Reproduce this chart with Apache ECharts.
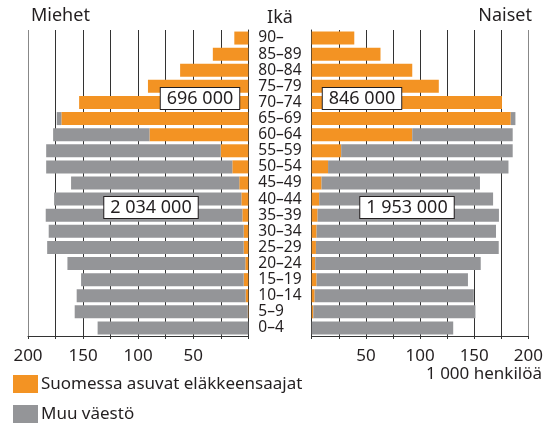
<!DOCTYPE html>
<html>
<head>
<meta charset="utf-8">
<script src="https://cdn.jsdelivr.net/npm/echarts@6/dist/echarts.min.js"></script>
<style>
  html, body { margin: 0; padding: 0; background: #fff; }
  #main { width: 546px; height: 424px; }
</style>
</head>
<body>
<div id="main"></div>
<script>
// ikäryhmät ylhäältä alas
var ages = ['90–', '85–89', '80–84', '75–79', '70–74', '65–69', '60–64', '55–59', '50–54', '45–49',
  '40–44', '35–39', '30–34', '25–29', '20–24', '15–19', '10–14', '5–9', '0–4'];

// 1 000 henkilöä
var menPension = [12.7, 32.2, 61.9, 91.1, 153.6, 169.7, 89.7, 25, 14.5, 8.2, 6.3, 5.4, 4.2, 4.2, 2.7, 4.2, 2.4, 0.5, 0];
var menOther = [0, 0, 0, 0, 0, 4.2, 87.5, 158.5, 169, 152.7, 170, 178.5, 177, 178.4, 161.5, 147.6, 153.4, 157.1, 136.8];
var womenPension = [39.3, 63.5, 92.8, 117.3, 175.6, 183.7, 92.8, 27.2, 15.1, 9.1, 6.9, 5.4, 4.5, 3.9, 3.3, 4.5, 2.7, 1.5, 0];
var womenOther = [0, 0, 0, 0, 0, 4.3, 92.7, 158.3, 166.5, 146.2, 160.5, 167.4, 165.6, 168.7, 152.7, 139.7, 146.9, 149.6, 130.6];

var totalLabels = ['696 000', '2 034 000', '846 000', '1 953 000'];

var FONT = '"Noto Sans", "Open Sans", sans-serif';
var ORANGE = '#f39323';
var GRAY = '#949598';
var TXT = '#231f20';

var chart = echarts.init(document.getElementById('main'));

function xAxisCfg(gridIndex, inverse) {
  return {
    gridIndex: gridIndex,
    type: 'value',
    inverse: inverse,
    min: 0,
    max: 200,
    interval: 25,
    axisLine: { show: true, lineStyle: { color: '#333', width: 1 } },
    axisTick: { show: true, length: 3, lineStyle: { color: '#333' } },
    axisLabel: {
      margin: 12,
      fontSize: 17,
      fontFamily: FONT,
      color: TXT,
      formatter: function (v) { return (v > 0 && v % 50 === 0) ? String(v) : ''; }
    },
    splitLine: {
      show: true,
      lineStyle: { color: ['#333', '#333', '#333', '#333', '#333', '#333', '#333', '#333', '#888'], width: 1 }
    }
  };
}

function boxText(text, cx, cy) {
  return {
    type: 'text',
    x: cx,
    y: cy,
    z: 100,
    style: {
      text: text,
      fontSize: 18,
      fontFamily: FONT,
      fill: TXT,
      align: 'center',
      verticalAlign: 'middle',
      backgroundColor: '#fff',
      borderColor: '#231f20',
      borderWidth: 1,
      padding: [2, 6, 1, 6]
    }
  };
}

chart.setOption({
  animation: false,
  textStyle: { fontFamily: FONT },
  grid: [
    { left: 28, right: 297.7, top: 30, height: 306 },
    { left: 311.7, right: 13.7, top: 30, height: 306 }
  ],
  legend: {
    orient: 'vertical',
    left: 13,
    top: 375,
    padding: 0,
    itemWidth: 25,
    itemHeight: 18,
    itemGap: 12,
    icon: 'rect',
    textStyle: { fontSize: 17, fontFamily: FONT, color: TXT, padding: [0, 0, 0, -2] },
    data: ['Suomessa asuvat eläkkeensaajat', 'Muu väestö']
  },
  xAxis: [xAxisCfg(0, true), xAxisCfg(1, false)],
  yAxis: [
    {
      gridIndex: 0,
      type: 'category',
      inverse: true,
      position: 'right',
      data: ages,
      axisLine: { show: true, lineStyle: { color: '#333' } },
      axisTick: { show: false },
      axisLabel: {
        show: true,
        interval: 0,
        align: 'left',
        margin: 10,
        fontSize: 15.5,
        fontFamily: FONT,
        color: TXT
      }
    },
    {
      gridIndex: 1,
      type: 'category',
      inverse: true,
      data: ages,
      axisLine: { show: true, lineStyle: { color: '#333' } },
      axisTick: { show: false },
      axisLabel: { show: false }
    }
  ],
  series: [
    {
      name: 'Suomessa asuvat eläkkeensaajat', type: 'bar', stack: 'm',
      xAxisIndex: 0, yAxisIndex: 0, barWidth: 13,
      itemStyle: { color: ORANGE }, data: menPension
    },
    {
      name: 'Muu väestö', type: 'bar', stack: 'm',
      xAxisIndex: 0, yAxisIndex: 0, barWidth: 13,
      itemStyle: { color: GRAY }, data: menOther
    },
    {
      name: 'Suomessa asuvat eläkkeensaajat', type: 'bar', stack: 'f',
      xAxisIndex: 1, yAxisIndex: 1, barWidth: 13,
      itemStyle: { color: ORANGE }, data: womenPension
    },
    {
      name: 'Muu väestö', type: 'bar', stack: 'f',
      xAxisIndex: 1, yAxisIndex: 1, barWidth: 13,
      itemStyle: { color: GRAY }, data: womenOther
    }
  ],
  graphic: [
    { type: 'text', left: 31, top: 7, style: { text: 'Miehet', fontSize: 18, fontFamily: FONT, fill: TXT } },
    { type: 'text', x: 280, y: 18, style: { text: 'Ikä', fontSize: 18, fontFamily: FONT, fill: TXT, align: 'center', verticalAlign: 'middle' } },
    { type: 'text', right: 14, top: 7, style: { text: 'Naiset', fontSize: 18, fontFamily: FONT, fill: TXT } },
    { type: 'text', right: 4, top: 366, style: { text: '1 000 henkilöä', fontSize: 17, fontFamily: FONT, fill: TXT } },
    boxText(totalLabels[0], 200, 98.5),
    boxText(totalLabels[1], 151, 207.5),
    boxText(totalLabels[2], 362, 98.5),
    boxText(totalLabels[3], 407, 207.5)
  ]
});
</script>
</body>
</html>
